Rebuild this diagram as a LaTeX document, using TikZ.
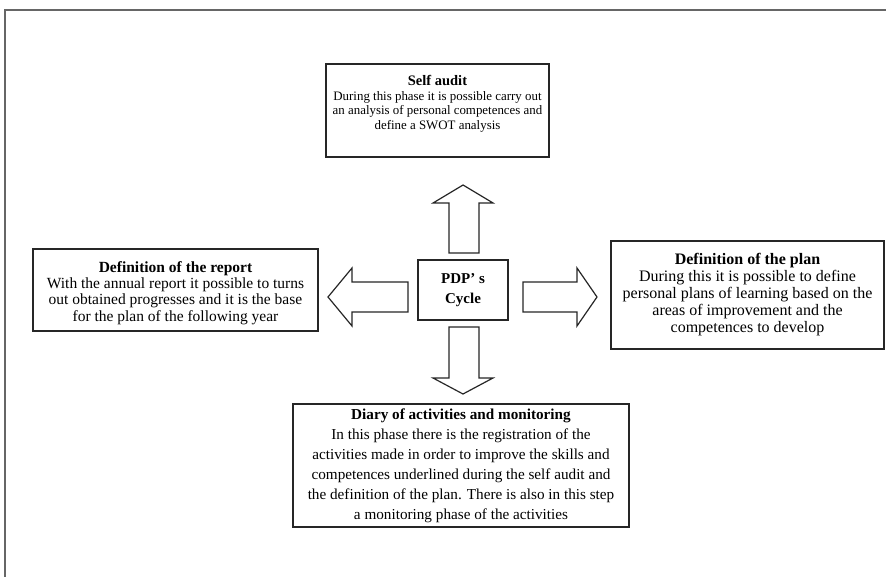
\documentclass[tikz,border=0pt]{standalone}
\usepackage{fontspec}
\setmainfont{Liberation Serif}

\begin{document}
\begin{tikzpicture}[
    x=1pt, y=-1pt,
    phase/.style={rectangle, draw=black!85, line width=1.2pt, align=center, inner sep=0pt, fill=white},
    hub/.style={rectangle, draw=black!85, line width=1.2pt, align=center, inner sep=0pt, fill=white,
        minimum width=90pt, minimum height=60pt, font=\fontsize{15}{20}\selectfont\bfseries},
    blockarrow/.style={draw=black!85, line width=1.2pt, fill=white, line join=miter}
]

% Frame
\useasboundingbox (0,0) rectangle (886,577);
\draw[black!60, line width=1.5pt] (886,10) -- (5,10) -- (5,577);

% Centre
\node[hub] (pdp) at (463,290) {PDP’ s\\Cycle};

% Phases
\node[phase, minimum width=223pt, minimum height=93pt, font=\fontsize{12.9}{14.5}\selectfont] (audit) at (437.5,110.5)
    {{\fontsize{14.5}{14.5}\selectfont\textbf{Self audit}}\\During this phase it is possible carry out\\an analysis of personal competences and\\define a SWOT analysis\rule[-16pt]{0pt}{0pt}};
\node[phase, minimum width=285pt, minimum height=82pt, font=\fontsize{15.5}{16.3}\selectfont] (report) at (175.5,290)
    {\rule{0pt}{17pt}\textbf{Definition of the report}\\With the annual report it possible to turns\\out obtained progresses and it is the base\\for the plan of the following year};
\node[phase, minimum width=273pt, minimum height=108pt, font=\fontsize{16}{17}\selectfont] (plan) at (747.5,295)
    {\textbf{Definition of the plan}\\During this it is possible to define\\personal plans of learning based on the\\areas of improvement and the\\competences to develop};
\node[phase, minimum width=336pt, minimum height=123pt, font=\fontsize{15.2}{20}\selectfont] (diary) at (461,465.5)
    {\textbf{Diary of activities and monitoring}\\In this phase there is the registration of the\\activities made in order to improve the skills and\\competences underlined during the self audit and\\the definition of the plan. There is also in this step\\a monitoring phase of the activities};

% Block arrows
\draw[blockarrow] (449,253) -- (449,203) -- (433,203) -- (463,185) -- (493,203) -- (479,203) -- (479,253) -- cycle;
\draw[blockarrow] (449,327) -- (449,378) -- (433,378) -- (463,394) -- (493,378) -- (479,378) -- (479,327) -- cycle;
\draw[blockarrow] (523,282) -- (577,282) -- (577,268) -- (597,297) -- (577,326) -- (577,312) -- (523,312) -- cycle;
\draw[blockarrow] (408,282) -- (352,282) -- (352,268) -- (328,297) -- (352,326) -- (352,312) -- (408,312) -- cycle;

\end{tikzpicture}
\end{document}
